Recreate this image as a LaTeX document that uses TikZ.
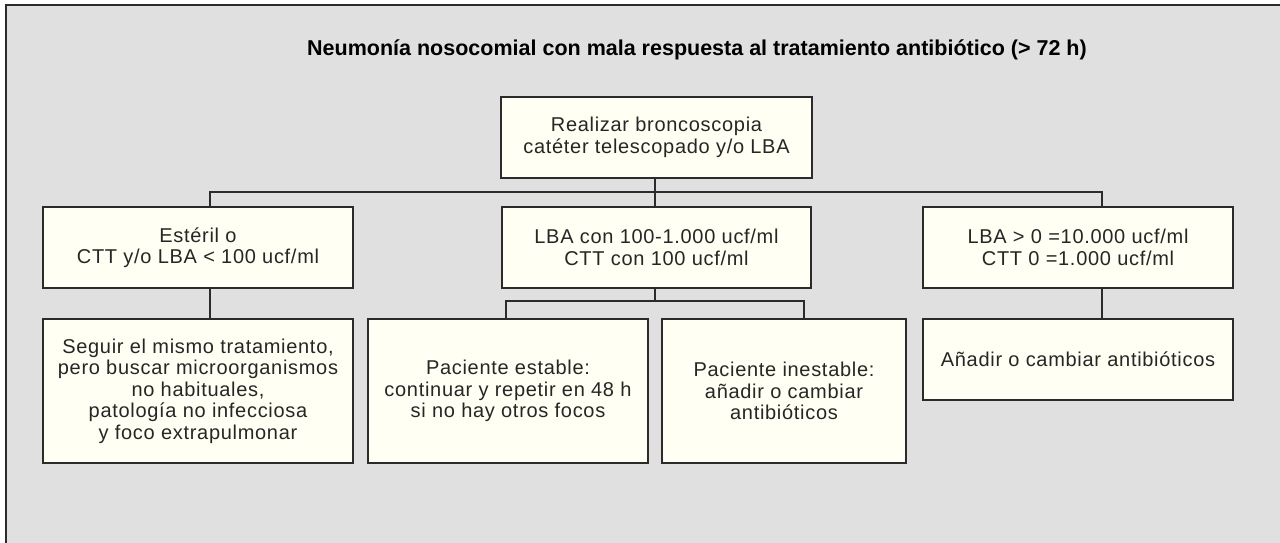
\documentclass[tikz,border=0pt]{standalone}
\usepackage{fontspec}
\setmainfont{Liberation Sans}
\newfontfamily\bodyfont{Liberation Sans}[LetterSpace=3.5]
\definecolor{bggrey}{HTML}{E0E0E0}
\definecolor{boxfill}{HTML}{FFFFF3}
\definecolor{lineclr}{HTML}{2B2B2B}
\definecolor{txtclr}{HTML}{262626}
\begin{document}
\begin{tikzpicture}[x=1pt,y=-1pt,
  stepbox/.style={draw=lineclr, line width=1.3pt, fill=boxfill, inner sep=0pt,
    align=center, text=txtclr, font=\bodyfont\fontsize{20}{21.5}\selectfont},
  conn/.style={draw=lineclr, line width=1.3pt},
  titletext/.style={font=\bfseries\fontsize{21.5}{25}\selectfont, text=black, anchor=base, inner sep=0pt}]
\useasboundingbox (0,0) rectangle (1280,543);
\fill[white] (0,0) rectangle (1280,543);
\fill[bggrey] (6,5) rectangle (1280,543);
\draw[lineclr, line width=1.5pt] (6,543) -- (6,5) -- (1280,5);

\node[titletext] (title) at (697,56) {Neumonía nosocomial con mala respuesta al tratamiento antibiótico (> 72 h)};

\node[stepbox, minimum width=311pt, minimum height=81pt] (top) at (656.5,137.5)
  {Realizar broncoscopia\\catéter telescopado y/o LBA};
\node[stepbox, minimum width=310pt, minimum height=81pt] (left) at (198,247.5)
  {Estéril o\\CTT y/o LBA < 100 ucf/ml};
\node[stepbox, minimum width=309pt, minimum height=81pt] (mid) at (656.5,247.5)
  {LBA con 100-1.000 ucf/ml\\CTT con 100 ucf/ml};
\node[stepbox, minimum width=310pt, minimum height=81pt] (right) at (1078,247.5)
  {LBA > 0 =10.000 ucf/ml\\CTT 0 =1.000 ucf/ml};
\node[stepbox, minimum width=310pt, minimum height=144pt] (lowL) at (198,391)
  {Seguir el mismo tratamiento,\\pero buscar microorganismos\\no habituales,\\patología no infecciosa\\y foco extrapulmonar};
\node[stepbox, minimum width=280pt, minimum height=144pt] (lowM1) at (508,391)
  {Paciente estable:\\continuar y repetir en 48 h\\si no hay otros focos};
\node[stepbox, minimum width=244pt, minimum height=144pt] (lowM2) at (784,391)
  {Paciente inestable:\\añadir o cambiar\\antibióticos};
\node[stepbox, minimum width=310pt, minimum height=81pt] (lowR) at (1078,359.5)
  {Añadir o cambiar antibióticos};

% main bus
\coordinate (busC) at (655,192);
\coordinate (busL) at (210,192);
\coordinate (busR) at (1102,192);
\draw[conn] (top.south -| busC) -- (busC);
\draw[conn] (busL |- left.north) -- (busL) -- (busR) -- (busR |- right.north);
\draw[conn] (busC) -- (busC |- mid.north);
% left branch
\draw[conn] (busL |- left.south) -- (busL |- lowL.north);
% right branch
\draw[conn] (busR |- right.south) -- (busR |- lowR.north);
% middle sub-bus
\coordinate (subC) at (655,301);
\coordinate (subL) at (506,301);
\coordinate (subR) at (804,301);
\draw[conn] (subC |- mid.south) -- (subC);
\draw[conn] (subL |- lowM1.north) -- (subL) -- (subR) -- (subR |- lowM2.north);
\end{tikzpicture}
\end{document}
